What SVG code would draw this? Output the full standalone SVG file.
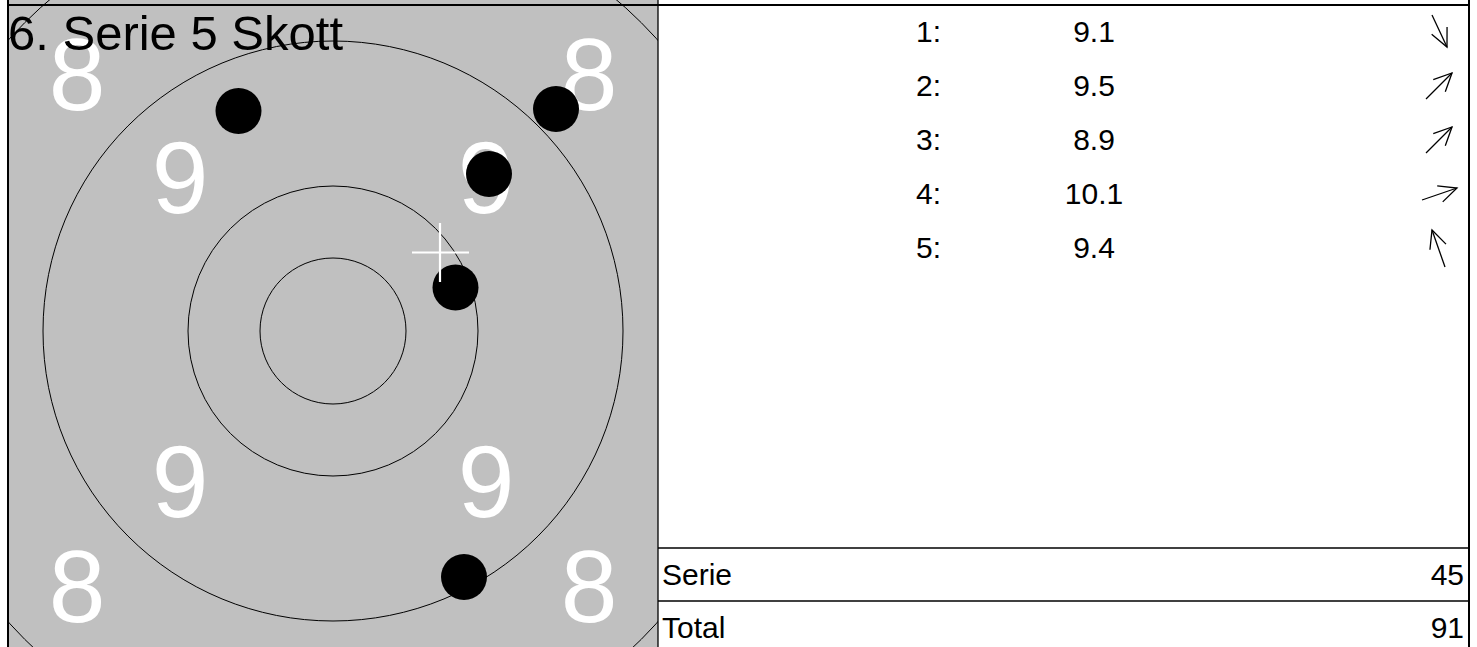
<svg xmlns="http://www.w3.org/2000/svg" width="1477" height="647" viewBox="0 0 1477 647">
<style>
.t{font-family:"Liberation Sans",Arial,Helvetica,sans-serif}
.big{font-size:102px;fill:#fff;text-anchor:middle}
.ring{fill:none;stroke:#000;stroke-width:1}
.hole{fill:#000}
.row{font-size:30px;fill:#000}
.val{text-anchor:middle}
.end{text-anchor:end}
.arr{stroke:#000;stroke-width:1.3;fill:none;marker-end:url(#ah)}
.frame{stroke:#000;stroke-width:2;fill:none}
.div{stroke:#000;stroke-width:1.3;fill:none}
.cross{stroke:#fff;stroke-width:2.2;fill:none}
</style>
<defs>
<clipPath id="tc"><rect x="8" y="0" width="650" height="647"/></clipPath>
<marker id="ah" markerUnits="userSpaceOnUse" markerWidth="24" markerHeight="24" viewBox="-22 -12 24 24" refX="0" refY="0" orient="auto" overflow="visible"><path d="M-18,-8.5 L0,0 L-18,8.5" fill="none" stroke="#000" stroke-width="1.3"/></marker>
</defs>
<rect x="0" y="0" width="1477" height="647" fill="#fff"/>
<g id="target">
<rect x="8" y="0" width="650" height="647" fill="#c0c0c0"/>
<g id="rings">
<circle class="ring" cx="333" cy="331" r="73"/>
<circle class="ring" cx="333" cy="331" r="145"/>
<circle class="ring" cx="333" cy="331" r="290"/>
<circle class="ring" cx="333" cy="331" r="436" clip-path="url(#tc)"/>
</g>
<g id="ring-numbers" class="t big">
<text x="77" y="110">8</text>
<text x="589" y="110">8</text>
<text x="180" y="213">9</text>
<text x="486" y="213">9</text>
<text x="180" y="517">9</text>
<text x="486" y="517">9</text>
<text x="77" y="622">8</text>
<text x="589" y="622">8</text>
</g>
<g id="holes">
<circle class="hole" cx="238.5" cy="111" r="23"/>
<circle class="hole" cx="556" cy="109" r="23"/>
<circle class="hole" cx="489" cy="174" r="23"/>
<circle class="hole" cx="455.5" cy="287.5" r="23"/>
<circle class="hole" cx="464" cy="577" r="23"/>
</g>
<g id="aim-cross">
<line class="cross" x1="412" y1="252.5" x2="469" y2="252.5"/>
<line class="cross" x1="440" y1="223" x2="440" y2="282"/>
</g>
<text id="title" class="t" x="8" y="50" font-size="49" fill="#000">6. Serie 5 Skott</text>
</g>
<g id="shots" class="t row">
<text x="916" y="42">1:</text><text class="val" x="1094" y="42">9.1</text>
<text x="916" y="96">2:</text><text class="val" x="1094" y="96">9.5</text>
<text x="916" y="150">3:</text><text class="val" x="1094" y="150">8.9</text>
<text x="916" y="204">4:</text><text class="val" x="1094" y="204">10.1</text>
<text x="916" y="258">5:</text><text class="val" x="1094" y="258">9.4</text>
</g>
<g id="direction-arrows">
<line class="arr" x1="1432" y1="15" x2="1447" y2="47"/>
<line class="arr" x1="1426" y1="99" x2="1452" y2="73"/>
<line class="arr" x1="1426" y1="153" x2="1452" y2="127"/>
<line class="arr" x1="1422" y1="200" x2="1457" y2="188"/>
<line class="arr" x1="1445" y1="267" x2="1432" y2="230"/>
</g>
<g id="serie" class="t row">
<text x="662" y="585">Serie</text>
<text class="end" x="1464" y="585">45</text>
</g>
<g id="total" class="t row">
<text x="662" y="638">Total</text>
<text class="end" x="1464" y="638">91</text>
</g>
<g id="grid">
<line class="div" x1="658" y1="0" x2="658" y2="647"/>
<line class="div" x1="658" y1="548" x2="1469" y2="548"/>
<line class="div" x1="658" y1="601" x2="1469" y2="601"/>
<line class="frame" x1="8" y1="5" x2="1470" y2="5"/>
<line class="frame" x1="8" y1="0" x2="8" y2="647"/>
<line class="frame" x1="1469" y1="0" x2="1469" y2="647"/>
</g>
</svg>
